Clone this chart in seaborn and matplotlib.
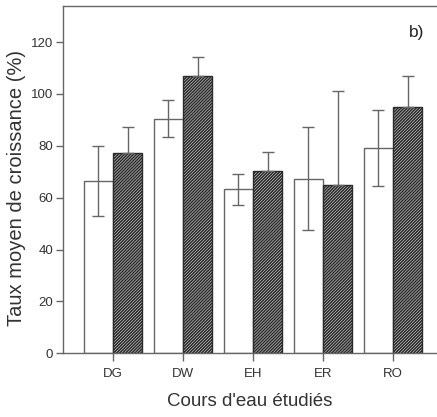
import pandas as pd
import numpy as np
import matplotlib
matplotlib.use("Agg")
import matplotlib.pyplot as plt
import seaborn as sns

# ---- data ----
sites = ["DG", "DW", "EH", "ER", "RO"]
mean_open = [66.3, 90.4, 63.3, 67.3, 79.2]      # white bars
err_open = [13.5, 7.1, 6.0, 19.8, 14.6]
mean_hatch = [77.2, 107.0, 70.1, 65.0, 95.0]    # hatched bars
err_hatch = [10.0, 7.4, 7.5, 36.0, 12.0]

plt.rcParams.update({
    'font.family': ['Liberation Sans', 'DejaVu Sans'],
    'hatch.linewidth': 1.2,
    'hatch.color': '#2a2a2a',
    'axes.linewidth': 1.0,
})

df = pd.DataFrame({
    'site': sites * 2,
    'value': mean_open + mean_hatch,
    'group': ['open'] * 5 + ['hatch'] * 5,
})

fig = plt.figure(figsize=(4.37, 4.17), dpi=100)
ax = fig.add_axes([0.144, 0.153, 0.856, 0.833])

sns.barplot(data=df, x='site', y='value', hue='group', hue_order=['open', 'hatch'],
            palette=['white', 'white'], width=0.84, errorbar=None,
            edgecolor='#666666', linewidth=1.0, legend=False, ax=ax, zorder=2)

# hatch the second series
for p in ax.containers[1]:
    p.set_hatch('///////////')
    p.set_edgecolor('#2a2a2a')

# error bars: white bars both ways, hatched bars upper only
for cont, means, errs, full in [(ax.containers[0], mean_open, err_open, True),
                                (ax.containers[1], mean_hatch, err_hatch, False)]:
    xs = [p.get_x() + p.get_width() / 2 for p in cont]
    lower = errs if full else [0] * len(errs)
    ax.errorbar(xs, means, yerr=[lower, errs], fmt='none', ecolor='#666666',
                elinewidth=1.0, capsize=4, capthick=1.0, zorder=3)

ax.set_xlim(-0.714, 4.63)
ax.set_ylim(0, 134)
ax.set_yticks([0, 20, 40, 60, 80, 100, 120])
ax.spines['right'].set_visible(False)
for s in ['left', 'top', 'bottom']:
    ax.spines[s].set_color('#666666')
ax.tick_params(axis='both', direction='out', length=5, width=1.0, color='#666666',
               labelsize=9.5, pad=2, labelcolor='#333333')
ax.tick_params(axis='x', length=6, pad=5)

ax.set_xlabel("Cours d'eau étudiés", fontsize=13.5, color='#333333', labelpad=9)
ax.set_ylabel("Taux moyen de croissance (%)", fontsize=14.5, color='#333333')
ax.yaxis.set_label_coords(-0.1, 0.475)
ax.text(0.945, 0.922, "b)", transform=ax.transAxes, fontsize=12.5, color='#222222',
        ha='center', va='center')

fig.savefig("out.png", dpi=100)
